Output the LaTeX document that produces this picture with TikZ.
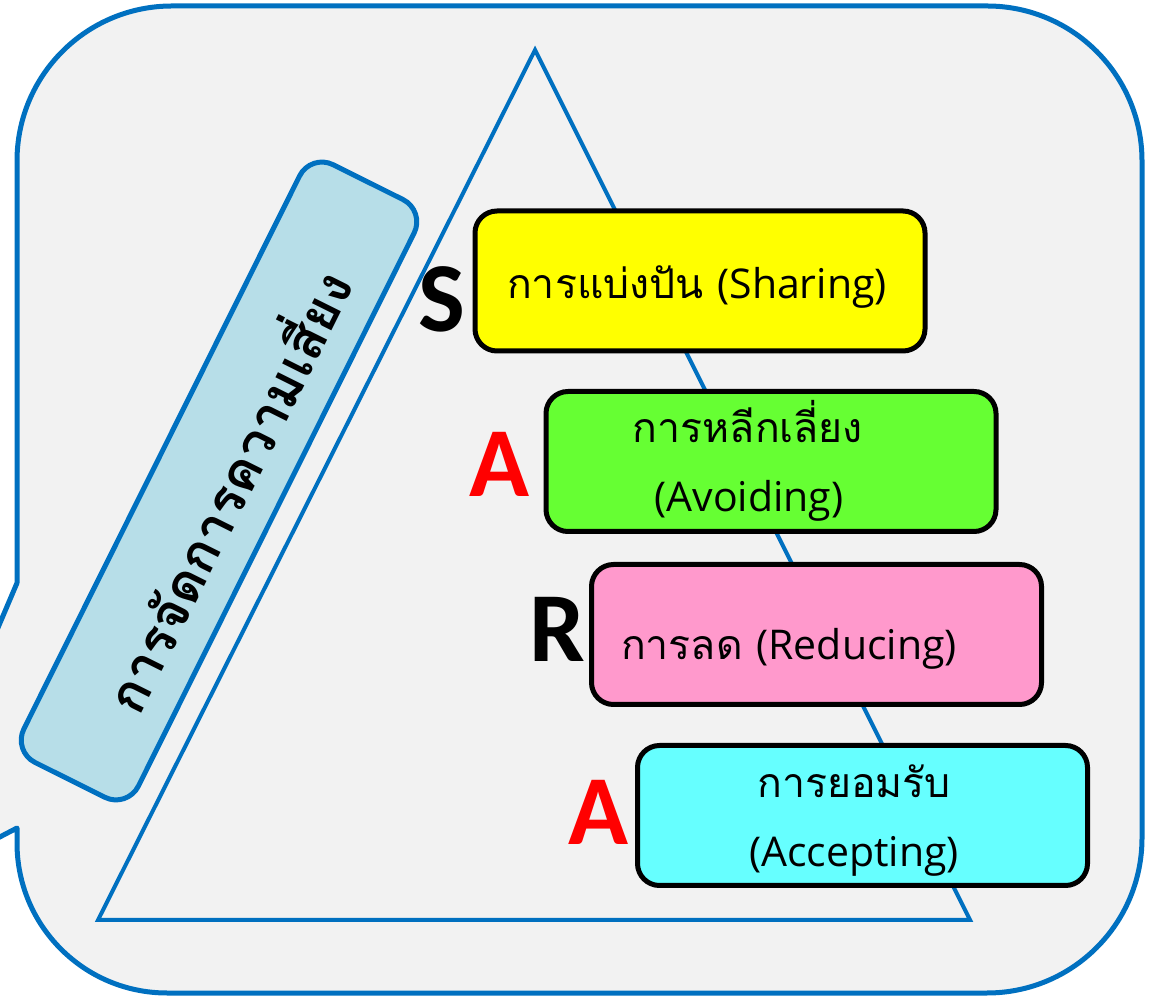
\documentclass[tikz,border=0pt]{standalone}
\usepackage{fontspec}
\newfontfamily\thai[Script=Thai]{Loma}
\newfontfamily\enfont{Open Sans}
\newfontfamily\letterfont{Carlito}
\definecolor{frameblue}{HTML}{0070C0}
\definecolor{panelgray}{HTML}{F2F2F2}
\definecolor{labelblue}{HTML}{B7DEE8}
\definecolor{boxyellow}{HTML}{FFFF00}
\definecolor{boxgreen}{HTML}{66FF33}
\definecolor{boxpink}{HTML}{FF99CC}
\definecolor{boxcyan}{HTML}{66FFFF}
\tikzset{
  stepbox/.style={draw=black, line width=5pt, rounded corners=22pt,
    minimum width=450pt, minimum height=140pt, inner sep=0pt},
  boxtext/.style={anchor=base, inner sep=0pt, font=\fontsize{41}{49}\selectfont},
  bigletter/.style={anchor=base, inner sep=0pt,
    font=\letterfont\bfseries\fontsize{99}{110}\selectfont},
}
\begin{document}
\begin{tikzpicture}[x=1pt,y=1pt]
\useasboundingbox (0,0) rectangle (1153,998);
\begin{scope}
\clip (0,0) rectangle (1153,998);
% outer callout panel
\draw[frameblue, line width=5pt, fill=panelgray, line join=round]
  (17,415) -- (17,837) arc[start angle=180, end angle=90, radius=155]
  -- (987,992) arc[start angle=90, end angle=0, radius=155]
  -- (1142,160) arc[start angle=0, end angle=-90, radius=155]
  -- (167,5) arc[start angle=270, end angle=180, radius=150]
  -- (17,170) -- (-117,100) -- cycle;
\end{scope}

% pyramid outline
\coordinate (apex) at (535,948);
\coordinate (baseL) at (98,78);
\coordinate (baseR) at (970,78);
\draw[frameblue, line width=4pt, line join=miter] (apex) -- (baseL) -- (baseR) -- cycle;

% slanted title
\node[draw=frameblue, fill=labelblue, line width=5pt, rounded corners=25pt,
  rotate=63.5, minimum width=668pt, minimum height=128pt] (title) at (219,517) {};
\node[rotate=63.5, font=\thai\bfseries\fontsize{53}{60}\selectfont]
  (titletext) at ([shift={(4,-8)}]title.center) {การจัดการความเสี่ยง};

% the four steps
\node[stepbox, fill=boxyellow] (share) at (700,717) {};
\node[stepbox, fill=boxgreen]  (avoid) at (771,536.5) {};
\node[stepbox, fill=boxpink]   (reduce) at (816.5,363.5) {};
\node[stepbox, fill=boxcyan]   (accept) at (862.5,182.5) {};

\node[boxtext] (shareT) at (697,699) {\thai การแบ่งปัน \enfont(Sharing)};
\node[boxtext] (avoidT1) at (748,555) {\thai การหลีกเลี่ยง};
\node[boxtext] (avoidT2) at (749,486) {\enfont(Avoiding)};
\node[boxtext] (reduceT) at (789,338) {\thai การลด \enfont(Reducing)};
\node[boxtext] (acceptT1) at (854,200) {\thai การยอมรับ};
\node[boxtext] (acceptT2) at (854,131) {\enfont(Accepting)};

% initials
\node[bigletter] (S) at (442,666) {S};
\node[bigletter, text=red] (A1) at (499,501) {A};
\node[bigletter] (R) at (557,336) {R};
\node[bigletter, text=red] (A2) at (598,153) {A};
\end{tikzpicture}
\end{document}
